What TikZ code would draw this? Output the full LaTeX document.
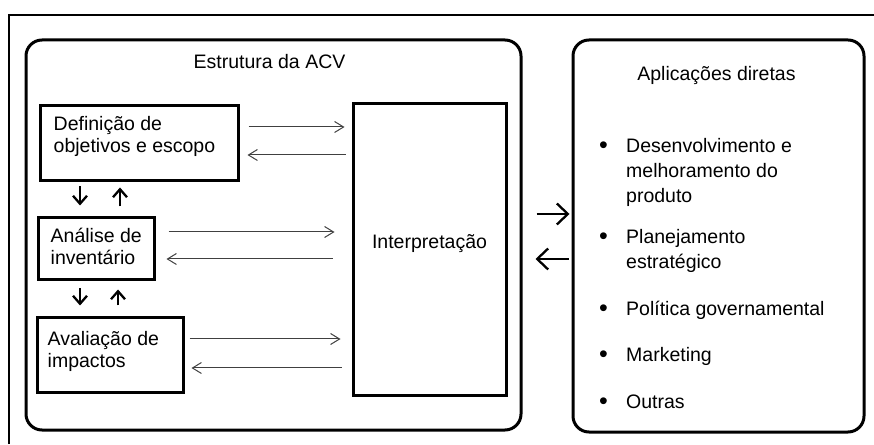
\documentclass[tikz,border=0pt]{standalone}
\usepackage{fontspec}
\setmainfont{Liberation Sans}
\usepackage{tikz}
\usetikzlibrary{arrows.meta,positioning}

\newcommand{\apbullet}{{\fontsize{25}{25}\selectfont\raisebox{-1pt}{\textbullet}}}

\begin{document}
\begin{tikzpicture}[x=1pt,y=1pt,
    txt/.style={inner sep=0pt,font=\fontsize{19.5}{22}\selectfont},
    itemtxt/.style={inner sep=0pt,anchor=base west,font=\fontsize{19.5}{25}\selectfont},
    frame/.style={draw,line width=3pt,rounded corners=16pt,inner sep=0pt},
    stage/.style={draw,line width=3pt,inner sep=0pt},
    flow/.style={draw=black!75,line width=1pt,-{Straight Barb[length=9pt,width=11pt]}},
    updown/.style={line width=2.3pt,-{Straight Barb[length=8pt,width=14pt,line width=2.3pt]}},
    link/.style={line width=2.3pt,-{Straight Barb[length=11pt,width=21pt,line width=2.3pt]}}]
    \useasboundingbox (0,0) rectangle (874,444);
    \draw[line width=1.8pt] (9,0) -- (9,429) -- (874,429);

    % the two big frames
    \node[frame,minimum width=495,minimum height=390] (acv) at (273.5,209) {};
    \node[frame,minimum width=291,minimum height=392] (apl) at (718.5,208) {};
    \node[txt,anchor=base] (acvtitle) at (269.5,375) {Estrutura da ACV};
    \node[txt,anchor=base] (apltitle) at (716.5,363) {Aplicações diretas};

    % phases
    \node[stage,minimum width=198,minimum height=75] (def) at (139,300.5) {};
    \node[stage,minimum width=116,minimum height=62] (inv) at (96,195) {};
    \node[stage,minimum width=146,minimum height=74] (ava) at (110,89) {};
    \node[stage,minimum width=153,minimum height=291,font=\fontsize{19.5}{22}\selectfont,
          text height=10pt,text depth=11pt] (interp) at (429.5,194.5) {Interpretação};

    \node[txt,anchor=base west] (deftext) at ([xshift=15pt,yshift=-26pt]def.north west)
        {\begin{tabular}[t]{@{}l@{}}Definição de\\objetivos e escopo\end{tabular}};
    \node[txt,anchor=base west] (invtext) at ([xshift=14pt,yshift=-26pt]inv.north west)
        {\begin{tabular}[t]{@{}l@{}}Análise de\\inventário\end{tabular}};
    \node[txt,anchor=base west] (avatext) at ([xshift=12pt,yshift=-29pt]ava.north west)
        {\begin{tabular}[t]{@{}l@{}}Avaliação de\\impactos\end{tabular}};

    % applications
    \node[itemtxt] (item1) at (599,291)
        {\begin{tabular}[t]{@{}p{27pt}@{}l@{}}\apbullet&Desenvolvimento e\\&melhoramento do\\&produto\end{tabular}};
    \node[itemtxt] (item2) at (599,200)
        {\begin{tabular}[t]{@{}p{27pt}@{}l@{}}\apbullet&Planejamento\\&estratégico\end{tabular}};
    \node[itemtxt] (item3) at (599,128)
        {\begin{tabular}[t]{@{}p{27pt}@{}l@{}}\apbullet&Política governamental\end{tabular}};
    \node[itemtxt] (item4) at (599,82)
        {\begin{tabular}[t]{@{}p{27pt}@{}l@{}}\apbullet&Marketing\end{tabular}};
    \node[itemtxt] (item5) at (599,36)
        {\begin{tabular}[t]{@{}p{27pt}@{}l@{}}\apbullet&Outras\end{tabular}};

    % phases <-> interpretation
    \draw[flow,shorten <=9pt,shorten >=7pt] (def.east |- 0,317) -- (interp.west |- 0,317);
    \draw[flow,shorten <=6pt,shorten >=8pt] (interp.west |- 0,289) -- (def.east |- 0,289);
    \draw[flow,shorten <=13pt,shorten >=17pt] (inv.east |- 0,212) -- (interp.west |- 0,212);
    \draw[flow,shorten <=19pt,shorten >=11pt] (interp.west |- 0,185) -- (inv.east |- 0,185);
    \draw[flow,shorten <=5pt,shorten >=11pt] (ava.east |- 0,105) -- (interp.west |- 0,105);
    \draw[flow,shorten <=10pt,shorten >=7pt] (interp.west |- 0,76) -- (ava.east |- 0,76);

    % between phases
    \draw[updown,shorten <=4pt,shorten >=11pt] (def.south -| 80,0) -- (inv.north -| 80,0);
    \draw[updown,shorten <=10pt,shorten >=5pt] (inv.north -| 120,0) -- (def.south -| 120,0);
    \draw[updown,shorten <=7pt,shorten >=11pt] (inv.south -| 80,0) -- (ava.north -| 80,0);
    \draw[updown,shorten <=11pt,shorten >=8pt] (ava.north -| 118,0) -- (inv.south -| 118,0);

    % structure <-> applications
    \draw[link,shorten <=14pt,shorten >=2pt] (acv.east |- 0,230) -- (apl.west |- 0,230);
    \draw[link,shorten <=3pt,shorten >=13pt] (apl.west |- 0,185) -- (acv.east |- 0,185);
\end{tikzpicture}
\end{document}
